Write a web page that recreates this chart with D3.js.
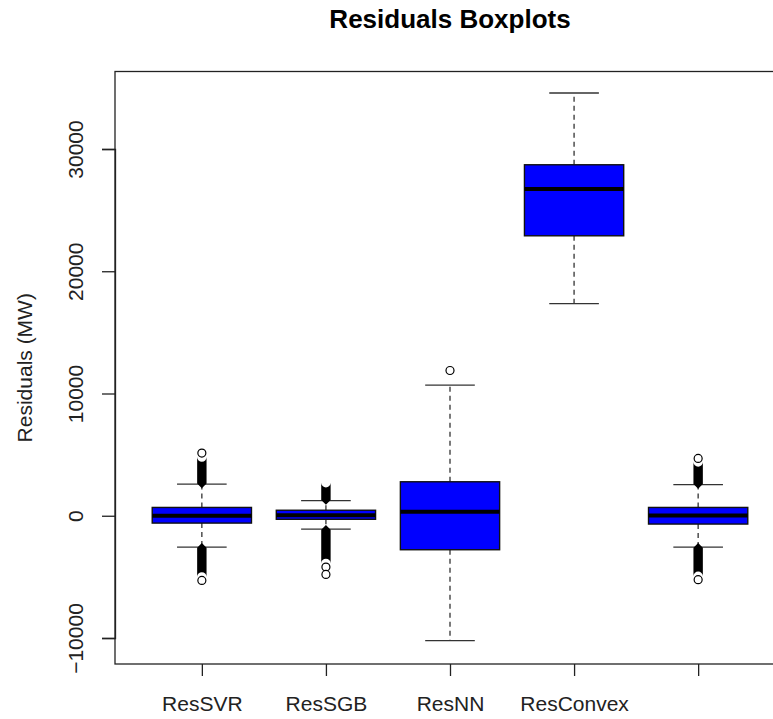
<!DOCTYPE html>
<html lang="en">
<head>
<meta charset="utf-8">
<title>Residuals Boxplots</title>
<script src="https://d3js.org/d3.v7.min.js"></script>
<style>
  body { margin: 0; background: #fff; }
  text { font-family: "Liberation Sans", Arial, sans-serif; }
</style>
</head>
<body>
<div id="chart"></div>
<script>
// box names (the fifth box has no label in the original)
const boxNames = ["ResSVR", "ResSGB", "ResNN", "ResConvex", ""];

// five-number summaries (MW)
const lowWhisker  = [-2560, -1090, -10220, 17350, -2560];
const q1          = [-600,  -290,  -2780,  22900, -680];
const median      = [0,     50,    330,    26730, 20];
const q3          = [680,   450,   2780,   28710, 680];
const highWhisker = [2590,  1230,  10690,  34580, 2540];

// runs of outliers so dense that the circles merge: [near whisker, far end]
const denseHigh = [[2640, 4800], [1280, 2700], null, null, [2590, 4400]];
const denseLow  = [[-2610, -5000], [-1140, -3900], null, null, [-2610, -4950]];
// outliers that still show as single circles
const loneOutliers = [[5130, -5290], [-4200, -4800], [11880], [], [4690, -5230]];

const yTicks = [-10000, 0, 10000, 20000, 30000];

const W = 773, H = 719;
const svg = d3.select("#chart").append("svg")
  .attr("width", W).attr("height", H);

// plot region (right edge runs past the picture, as in the original)
const plotLeft = 115, plotRight = 785, plotTop = 71.5, plotBottom = 664;

const x = d3.scaleLinear().domain([0.3, 5.7]).range([plotLeft, plotRight]);
const y = d3.scaleLinear().domain([-10000, 30000]).range([638, 149]);

const unit = x(2) - x(1);
const boxW = 0.8 * unit, stapleW = 0.4 * unit;
const ringR = 4;

const boxes = boxNames.map((name, i) => ({
  i, name,
  lo: lowWhisker[i], q1: q1[i], med: median[i], q3: q3[i], hi: highWhisker[i],
  dense: [denseHigh[i], denseLow[i]].filter(d => d),
  lone: loneOutliers[i]
}));

const g = svg.append("g");

// whiskers (dashed)
g.selectAll(".whisker").data(boxes.flatMap(b => [[b, b.q3, b.hi], [b, b.q1, b.lo]]))
  .join("line")
  .attr("x1", d => x(d[0].i + 1)).attr("x2", d => x(d[0].i + 1))
  .attr("y1", d => y(d[1])).attr("y2", d => y(d[2]))
  .attr("stroke", "#333").attr("stroke-width", 1.3)
  .attr("stroke-dasharray", "5,4");

// staples
g.selectAll(".staple").data(boxes.flatMap(b => [[b, b.hi], [b, b.lo]]))
  .join("line")
  .attr("x1", d => x(d[0].i + 1) - stapleW / 2)
  .attr("x2", d => x(d[0].i + 1) + stapleW / 2)
  .attr("y1", d => y(d[1])).attr("y2", d => y(d[1]))
  .attr("stroke", "#333").attr("stroke-width", 1.3);

// boxes
g.selectAll(".box").data(boxes)
  .join("rect")
  .attr("x", d => x(d.i + 1) - boxW / 2)
  .attr("width", boxW)
  .attr("y", d => y(d.q3))
  .attr("height", d => y(d.q1) - y(d.q3))
  .attr("fill", "#0000ff")
  .attr("stroke", "#111").attr("stroke-width", 1.4);

// medians
g.selectAll(".median").data(boxes)
  .join("line")
  .attr("x1", d => x(d.i + 1) - boxW / 2)
  .attr("x2", d => x(d.i + 1) + boxW / 2)
  .attr("y1", d => y(d.med)).attr("y2", d => y(d.med))
  .attr("stroke", "#000").attr("stroke-width", 4);

// dense outlier runs: pointed at the whisker end, round at the far end
const half = ringR + 0.7;
function bandPath(cx, a, b) {
  const ya = y(a), yb = y(b);
  const dir = yb < ya ? -1 : 1;   // direction from whisker outwards
  const tip = ya - dir * half;
  const p = d3.path();
  p.moveTo(cx, tip);
  p.lineTo(cx - half, ya);
  p.lineTo(cx - half, yb);
  p.arc(cx, yb, half, Math.PI, 0, dir < 0);
  p.lineTo(cx + half, ya);
  p.closePath();
  return p.toString();
}
g.selectAll(".dense").data(boxes.flatMap(b => b.dense.map(r => [b, r])))
  .join("path")
  .attr("d", d => bandPath(x(d[0].i + 1), d[1][0], d[1][1]))
  .attr("fill", "#000");

// single outliers
g.selectAll(".out").data(boxes.flatMap(b => b.lone.map(v => [b, v])))
  .join("circle")
  .attr("cx", d => x(d[0].i + 1))
  .attr("cy", d => y(d[1]))
  .attr("r", ringR)
  .attr("fill", "#fff")
  .attr("stroke", "#000").attr("stroke-width", 1.2);

// frame
svg.append("rect")
  .attr("x", plotLeft).attr("y", plotTop)
  .attr("width", plotRight - plotLeft).attr("height", plotBottom - plotTop)
  .attr("fill", "none").attr("stroke", "#222").attr("stroke-width", 1.3);

// y axis
const yAxis = svg.append("g")
  .attr("transform", `translate(${plotLeft},0)`)
  .call(d3.axisLeft(y).tickValues(yTicks).tickSize(13).tickFormat(d3.format("d")));
yAxis.select(".domain").attr("stroke", "#222").attr("stroke-width", 1.3);
yAxis.selectAll(".tick line").attr("stroke", "#222").attr("stroke-width", 1.3);
yAxis.selectAll(".tick text")
  .attr("x", 0).attr("dy", 0)
  .attr("transform", "translate(-32,0) rotate(-90)")
  .attr("text-anchor", "middle")
  .attr("font-size", 21)
  .attr("fill", "#222")
  .style("font-family", "'Liberation Sans', Arial, sans-serif");

// x axis
const xAxis = svg.append("g")
  .attr("transform", `translate(0,${plotBottom})`)
  .call(d3.axisBottom(x).tickValues([1, 2, 3, 4, 5]).tickSize(12)
    .tickFormat(d => boxNames[d - 1]));
xAxis.select(".domain").remove();
xAxis.selectAll(".tick line").attr("stroke", "#222").attr("stroke-width", 1.3);
xAxis.selectAll(".tick text")
  .attr("y", 47).attr("dy", 0)
  .attr("font-size", 21)
  .attr("fill", "#222")
  .style("font-family", "'Liberation Sans', Arial, sans-serif");

// y label
svg.append("text")
  .attr("transform", `translate(32,${(plotTop + plotBottom) / 2}) rotate(-90)`)
  .attr("text-anchor", "middle")
  .attr("font-size", 21)
  .attr("fill", "#222")
  .text("Residuals (MW)");

// title
svg.append("text")
  .attr("x", (plotLeft + plotRight) / 2).attr("y", 28)
  .attr("text-anchor", "middle")
  .attr("font-size", 26).attr("font-weight", "bold")
  .attr("fill", "#000")
  .text("Residuals Boxplots");
</script>
</body>
</html>
